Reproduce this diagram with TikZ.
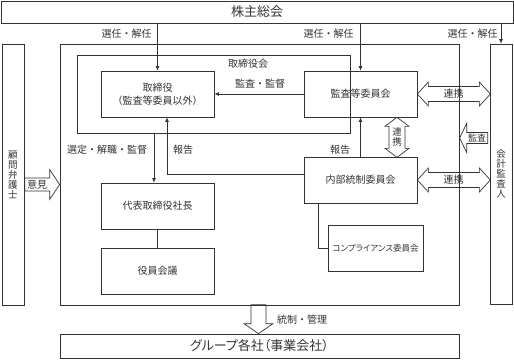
\documentclass[tikz,border=0pt]{standalone}
\usepackage{fontspec}
\setmainfont{Noto Sans CJK JP}
\newfontfamily\pfont[RawFeature=+palt]{Noto Sans CJK JP}
\usetikzlibrary{arrows.meta,calc}
\begin{document}
\begin{tikzpicture}[x=1pt,y=-1pt,line width=0.7pt,color=black!80,
  box/.style={draw,rectangle,inner sep=0pt,font=\fontsize{10}{13}\selectfont},
  lbl/.style={font=\fontsize{10}{11}\selectfont,inner sep=0pt},
  vtext/.style={align=center,font=\fontsize{9.5}{10}\selectfont},
  arr/.style={-{Latex[length=4.5pt,width=4pt]}},
  fat/.style={draw,line width=0.7pt,line join=miter}]
\useasboundingbox (0,0) rectangle (514,359);
% boxes
\node[box,minimum width=512pt,minimum height=22pt,font=\fontsize{13}{15}\selectfont] (top) at (257,12) {株主総会};
\node[box,vtext,minimum width=22pt,minimum height=261pt] (law) at (13,174.5) {顧\\問\\弁\\護\\士};
\node[box,vtext,minimum width=22pt,minimum height=260pt] (aud) at (501,174) {会\\計\\監\\査\\人};
\node[box,minimum width=399pt,minimum height=261pt] (outer) at (259.5,174.5) {};
\node[box,minimum width=273pt,minimum height=78pt] (board) at (213.5,94) {};
\node[lbl] (boardlbl) at (248,64) {取締役会};
\node[box,align=center,minimum width=113pt,minimum height=46pt] (dirs) at (157.5,94) {取締役\\（監査等委員以外）};
\node[box,minimum width=113pt,minimum height=46pt] (acc) at (360.5,94) {監査等委員会};
\node[box,minimum width=113pt,minimum height=46pt] (ceo) at (157.5,206) {代表取締役社長};
\node[box,minimum width=113pt,minimum height=46pt] (meet) at (157.5,271) {役員会議};
\node[box,minimum width=113pt,minimum height=46pt] (ic) at (360.5,180) {内部統制委員会};
\node[box,minimum width=95pt,minimum height=46pt,font=\pfont\fontsize{8.5}{10}\selectfont] (comp) at (375.5,248) {コンプライアンス委員会};
\node[box,minimum width=399pt,minimum height=24pt,font=\pfont\fontsize{13}{15}\selectfont] (group) at (259.5,346) {グループ各社（事業会社）};
% connectors from shareholders
\draw[arr] (dirs.north |- top.south) -- (dirs.north);
\draw[arr] (acc.north |- top.south) -- (acc.north);
\draw[arr] (aud.north |- top.south) -- (aud.north);
\node[lbl,anchor=east] (s1) at (152,34) {選任・解任};
\node[lbl,anchor=east] (s2) at (354,34) {選任・解任};
\node[lbl,anchor=east] (s3) at (498,34) {選任・解任};
% inner connectors
\draw[arr] (acc.west) -- (dirs.east);
\node[lbl] (l1) at (260,84) {監査・監督};
\draw[arr] ([xshift=-3.5pt]ceo.north |- board.south) -- ([xshift=-3.5pt]ceo.north);
\node[lbl] (l2) at (107,150) {選定・解職・監督};
\draw[arr] ([yshift=6pt]ic.west) -| ([xshift=9.5pt]dirs.south);
\node[lbl] (l3) at (183,150) {報告};
\draw (ceo) -- (meet);
\draw[arr] (ic.north) -- (acc.south);
\node[lbl] (l4) at (340,150) {報告};
\draw ([xshift=-42.5pt]ic.south) |- (comp.west);
% fat arrows (outline shapes)
\draw[fat] (acc.east) -- ++(11,-12) -- ++(0,4.5) -- ++(51,0) -- ++(0,-4.5) -- ++(11,12)
  -- ++(-11,12) -- ++(0,-4.5) -- ++(-51,0) -- ++(0,4.5) -- cycle;
\node[lbl] (c1) at ($(acc.east)!0.5!(aud.west |- acc.east)$) {連携};
\draw[fat] (ic.east) -- ++(11,-12) -- ++(0,4.5) -- ++(51,0) -- ++(0,-4.5) -- ++(11,12)
  -- ++(-11,12) -- ++(0,-4.5) -- ++(-51,0) -- ++(0,4.5) -- cycle;
\node[lbl] (c2) at ($(ic.east)!0.5!(aud.west |- ic.east)$) {連携};
\draw[fat] ($(acc.south)+(36.5,0)$) -- ++(12,9) -- ++(-4,0) -- ++(0,22) -- ++(4,0) -- ++(-12,9)
  -- ++(-12,-9) -- ++(4,0) -- ++(0,-22) -- ++(-4,0) -- cycle;
\node[lbl,vtext] (c3) at ($(acc.south)!0.5!(ic.north)+(36.5,0)$) {連\\携};
\draw[fat] ($(aud.west)+(-30,-36)$) -- ++(7,-14.5) -- ++(0,9) -- ++(21,0) -- ++(0,11)
  -- ++(-21,0) -- ++(0,9) -- cycle;
\node[lbl,font=\fontsize{9}{10}\selectfont] (kansa) at ($(aud.west)+(-12.5,-36)$) {監査};
\draw[fat] ($(outer.west)+(0,10)$) -- ++(-10,-15) -- ++(0,8.5) -- ++(-25,0) -- ++(0,13)
  -- ++(25,0) -- ++(0,8.5) -- cycle;
\node[lbl] (iken) at ($(outer.west)+(-22.5,10)$) {意見};
\draw[fat] ($(group.north)+(-1,0)$) -- ++(-14.5,-10) -- ++(7,0) -- ++(0,-19) -- ++(15,0)
  -- ++(0,19) -- ++(7,0) -- cycle;
\node[lbl] (l5) at (302,320) {統制・管理};
\end{tikzpicture}
\end{document}
